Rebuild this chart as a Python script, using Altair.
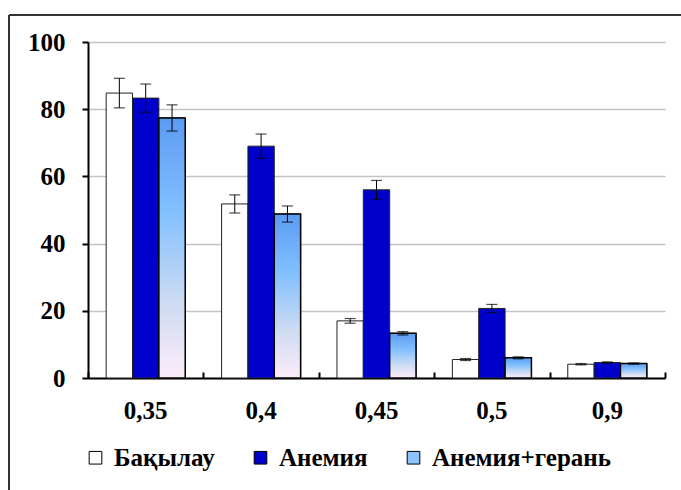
import altair as alt
import pandas as pd

# Category labels on the x axis and the three series
categories = ["0,35", "0,4", "0,45", "0,5", "0,9"]
series = ["Бақылау", "Анемия", "Анемия+герань"]

# Mean values and their errors per series
control = [84.8, 51.8, 17.0, 5.5, 4.1]
control_err = [4.4, 2.7, 0.7, 0.3, 0.2]
anemia = [83.3, 69.0, 56.0, 20.7, 4.6]
anemia_err = [4.2, 3.6, 2.8, 1.2, 0.2]
geranium = [77.4, 48.8, 13.3, 6.0, 4.3]
geranium_err = [3.9, 2.4, 0.5, 0.3, 0.2]

rows = []
for name, vals, errs in [(series[0], control, control_err),
                         (series[1], anemia, anemia_err),
                         (series[2], geranium, geranium_err)]:
    for c, v, e in zip(categories, vals, errs):
        rows.append({"cat": c, "series": name, "value": v,
                     "lo": v - e, "hi": v + e})
df = pd.DataFrame(rows)

FONT = "Liberation Serif"
W, H = 577, 336

x_scale = alt.Scale(domain=categories, paddingInner=0, paddingOuter=0)
off_scale = alt.Scale(domain=series, paddingInner=0, paddingOuter=0.69)
y_scale = alt.Scale(domain=[0, 100])

x_main = alt.X("cat:N", scale=x_scale, sort=categories, title=None,
               axis=alt.Axis(labelAngle=0, ticks=False, domain=True,
                             domainColor="black", domainWidth=2,
                             labelPadding=20, grid=False))
x_ticks = alt.X("cat:N", scale=x_scale, sort=categories, title=None,
                axis=alt.Axis(orient="top", offset=-H, labels=False,
                              domain=False, ticks=True, tickBand="extent",
                              tickSize=6, tickWidth=2, tickColor="black",
                              grid=False))
x_plain = alt.X("cat:N", scale=x_scale, sort=categories, axis=None)

y_enc = alt.Y("value:Q", scale=y_scale, title=None,
              axis=alt.Axis(values=[0, 20, 40, 60, 80, 100],
                            domainColor="black", domainWidth=2,
                            tickColor="black", tickWidth=2, tickSize=6,
                            labelPadding=17, grid=True,
                            gridColor="#c4c4c4", gridWidth=1.5))

base = alt.Chart(df)

bars = base.mark_bar(stroke="#222222", strokeWidth=1).encode(
    x=x_main,
    xOffset=alt.XOffset("series:N", scale=off_scale, sort=series),
    y=y_enc,
    fill=alt.Fill("series:N", sort=series,
                  scale=alt.Scale(domain=series,
                                  range=["#ffffff", "#0000cc", "#8cc4ff"]),
                  legend=alt.Legend(orient="none", legendX=-5, legendY=403,
                                    direction="horizontal", title=None,
                                    symbolType="square", symbolSize=160,
                                    symbolStrokeColor="black",
                                    symbolStrokeWidth=1,
                                    labelOffset=6, labelLimit=400,
                                    columnPadding=33, padding=0)),
)

gradient = alt.Gradient(
    gradient="linear", x1=0, x2=0, y1=0, y2=1,
    stops=[alt.GradientStop(offset=0, color="#5b9bf2"),
           alt.GradientStop(offset=0.35, color="#80bfff"),
           alt.GradientStop(offset=0.72, color="#cfdcf2"),
           alt.GradientStop(offset=1, color="#fdecfa")],
)

grad_bars = base.transform_filter(
    alt.datum.series == series[2]
).mark_bar(fill=gradient, stroke="black", strokeWidth=1.5).encode(
    x=x_plain,
    xOffset=alt.XOffset("series:N", scale=off_scale, sort=series),
    y=alt.Y("value:Q", scale=y_scale),
)

err_lines = base.mark_rule(color="black", strokeWidth=1).encode(
    x=x_ticks,
    xOffset=alt.XOffset("series:N", scale=off_scale, sort=series),
    y=alt.Y("lo:Q", scale=y_scale),
    y2="hi:Q",
)

caps_hi = base.mark_tick(color="black", thickness=1.2, size=11).encode(
    x=x_plain,
    xOffset=alt.XOffset("series:N", scale=off_scale, sort=series),
    y=alt.Y("hi:Q", scale=y_scale),
)
caps_lo = base.mark_tick(color="black", thickness=1.2, size=11).encode(
    x=x_plain,
    xOffset=alt.XOffset("series:N", scale=off_scale, sort=series),
    y=alt.Y("lo:Q", scale=y_scale),
)

# Outer frame around the figure
one = alt.Data(values=[{"k": 0}])
frame_top = alt.Chart(one).mark_rule(color="#333333", strokeWidth=2).encode(
    x=alt.value(-79), x2=alt.value(W + 20), y=alt.value(-27))
frame_left = alt.Chart(one).mark_rule(color="#333333", strokeWidth=2).encode(
    x=alt.value(-79), y=alt.value(-27), y2=alt.value(H + 120))

chart = alt.layer(
    bars, grad_bars, err_lines, caps_hi, caps_lo, frame_top, frame_left
).resolve_axis(x="independent").properties(
    width=W, height=H,
    padding={"left": 88, "top": 42, "right": 16, "bottom": 112},
    autosize=alt.AutoSizeParams(type="none"),
    background="white",
).configure(
    font=FONT
).configure_axis(
    labelFont=FONT, labelFontSize=25, labelFontWeight="bold",
    labelColor="black",
).configure_legend(
    labelFont=FONT, labelFontSize=25, labelFontWeight="bold",
    labelColor="black",
).configure_view(stroke=None)

chart.save("out.html", embed_options={"renderer": "svg", "actions": False})
